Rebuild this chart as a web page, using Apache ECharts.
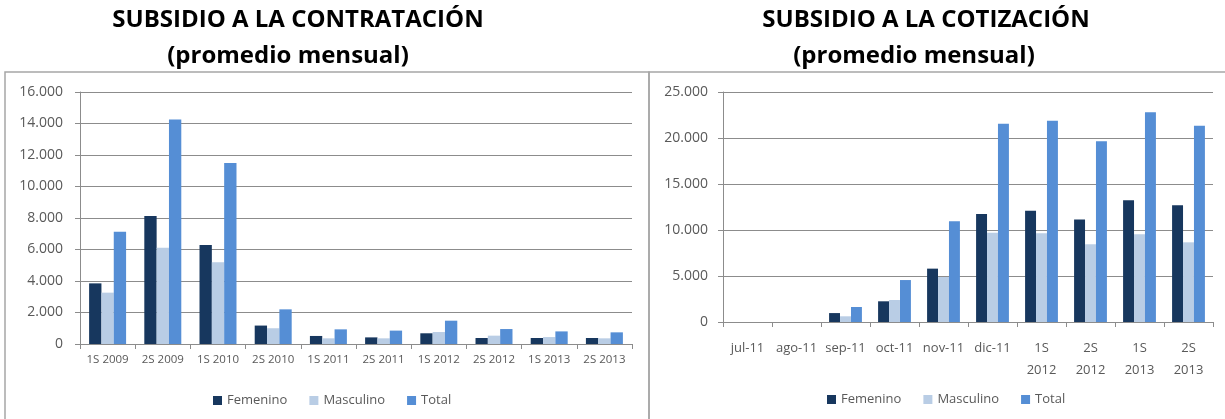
<html>
<head>
    <meta charset="utf-8">
    <title>Subsidios</title>
    <script src="https://cdn.jsdelivr.net/npm/echarts@6/dist/echarts.min.js"></script>
    <style>
        html, body { margin: 0; padding: 0; background: #fff; }
        #main { width: 1225px; height: 419px; }
    </style>
</head>
<body>
    <div id="main"></div>
    <script type="text/javascript">
        // datos - subsidio a la contratación
        var catContratacion = ['1S 2009', '2S 2009', '1S 2010', '2S 2010', '1S 2011', '2S 2011', '1S 2012', '2S 2012', '1S 2013', '2S 2013'];
        var contFemenino = [3850, 8120, 6280, 1170, 510, 420, 680, 380, 380, 380];
        var contMasculino = [3260, 6110, 5190, 1000, 360, 360, 760, 530, 440, 360];
        var contTotal = [7120, 14250, 11500, 2200, 930, 850, 1480, 950, 800, 740];

        // datos - subsidio a la cotización
        var catCotizacion = ['jul-11', 'ago-11', 'sep-11', 'oct-11', 'nov-11', 'dic-11', '1S\n2012', '2S\n2012', '1S\n2013', '2S\n2013'];
        var cotiFemenino = [0, 0, 970, 2250, 5800, 11740, 12100, 11130, 13230, 12690];
        var cotiMasculino = [0, 0, 620, 2390, 4890, 9710, 9640, 8450, 9530, 8660];
        var cotiTotal = [0, 0, 1630, 4560, 10950, 21560, 21880, 19640, 22790, 21340];

        var colors = ['#17375e', '#b9cde5', '#558ed5'];
        var gris = '#8c8c8c';
        var txt = '#595959';

        function miles(v) {
            return String(v).replace(/\B(?=(\d{3})+(?!\d))/g, '.');
        }

        var myChart = echarts.init(document.getElementById('main'));

        function ejeY(idx, max, interval, margen) {
            return {
                type: 'value', gridIndex: idx, min: 0, max: max, interval: interval,
                axisLine: { show: true, lineStyle: { color: gris } },
                axisTick: { show: true, length: 5, lineStyle: { color: gris } },
                axisLabel: { color: txt, fontSize: 14, fontFamily: 'Open Sans', margin: margen, formatter: miles },
                splitLine: { lineStyle: { color: gris, width: 1 } }
            };
        }

        function ejeX(idx, data, size, margen) {
            return {
                type: 'category', gridIndex: idx, data: data,
                axisLine: { lineStyle: { color: gris } },
                axisTick: { show: true, length: 5, lineStyle: { color: gris } },
                axisLabel: { color: txt, fontSize: size, fontFamily: 'Open Sans', interval: 0, margin: margen, lineHeight: 22 }
            };
        }

        function serie(nombre, idx, datos, color) {
            return {
                name: nombre, type: 'bar', xAxisIndex: idx, yAxisIndex: idx,
                data: datos, barGap: '0%', barCategoryGap: '33%',
                itemStyle: { color: color }
            };
        }

        var leyenda = {
            itemWidth: 9, itemHeight: 9, itemGap: 22, icon: 'rect',
            textStyle: { color: txt, fontSize: 13, fontFamily: 'Open Sans' },
            data: ['Femenino', 'Masculino', 'Total']
        };

        var estiloTitulo = { fontSize: 24, fontWeight: 'bold', fontFamily: 'Open Sans', color: '#000' };

        var option = {
            animation: false,
            color: colors,
            title: [
                { text: 'SUBSIDIO A LA CONTRATACIÓN', left: 293, top: 3, textAlign: 'center', textStyle: estiloTitulo },
                { text: '(promedio mensual)', left: 283, top: 39, textAlign: 'center', textStyle: estiloTitulo },
                { text: 'SUBSIDIO A LA COTIZACIÓN', left: 921, top: 3, textAlign: 'center', textStyle: estiloTitulo },
                { text: '(promedio mensual)', left: 909, top: 39, textAlign: 'center', textStyle: estiloTitulo }
            ],
            graphic: [
                { type: 'rect', shape: { x: 5, y: 72, width: 644, height: 360 },
                  style: { fill: 'none', stroke: '#a6a6a6', lineWidth: 1.5 }, silent: true },
                { type: 'rect', shape: { x: 649, y: 72, width: 600, height: 360 },
                  style: { fill: 'none', stroke: '#a6a6a6', lineWidth: 1.5 }, silent: true }
            ],
            legend: [
                Object.assign({ left: 208, top: 389 }, leyenda),
                Object.assign({ left: 822, top: 388 }, leyenda)
            ],
            grid: [
                { left: 80, top: 92, width: 552, height: 252 },
                { left: 723, top: 92, width: 490, height: 230 }
            ],
            xAxis: [ejeX(0, catContratacion, 11.5, 5), ejeX(1, catCotizacion, 13, 15)],
            yAxis: [ejeY(0, 16000, 2000, 17), ejeY(1, 25000, 5000, 15)],
            series: [
                serie('Femenino', 0, contFemenino, colors[0]),
                serie('Masculino', 0, contMasculino, colors[1]),
                serie('Total', 0, contTotal, colors[2]),
                serie('Femenino', 1, cotiFemenino, colors[0]),
                serie('Masculino', 1, cotiMasculino, colors[1]),
                serie('Total', 1, cotiTotal, colors[2])
            ]
        };
        myChart.setOption(option);
    </script>
</body>
</html>
